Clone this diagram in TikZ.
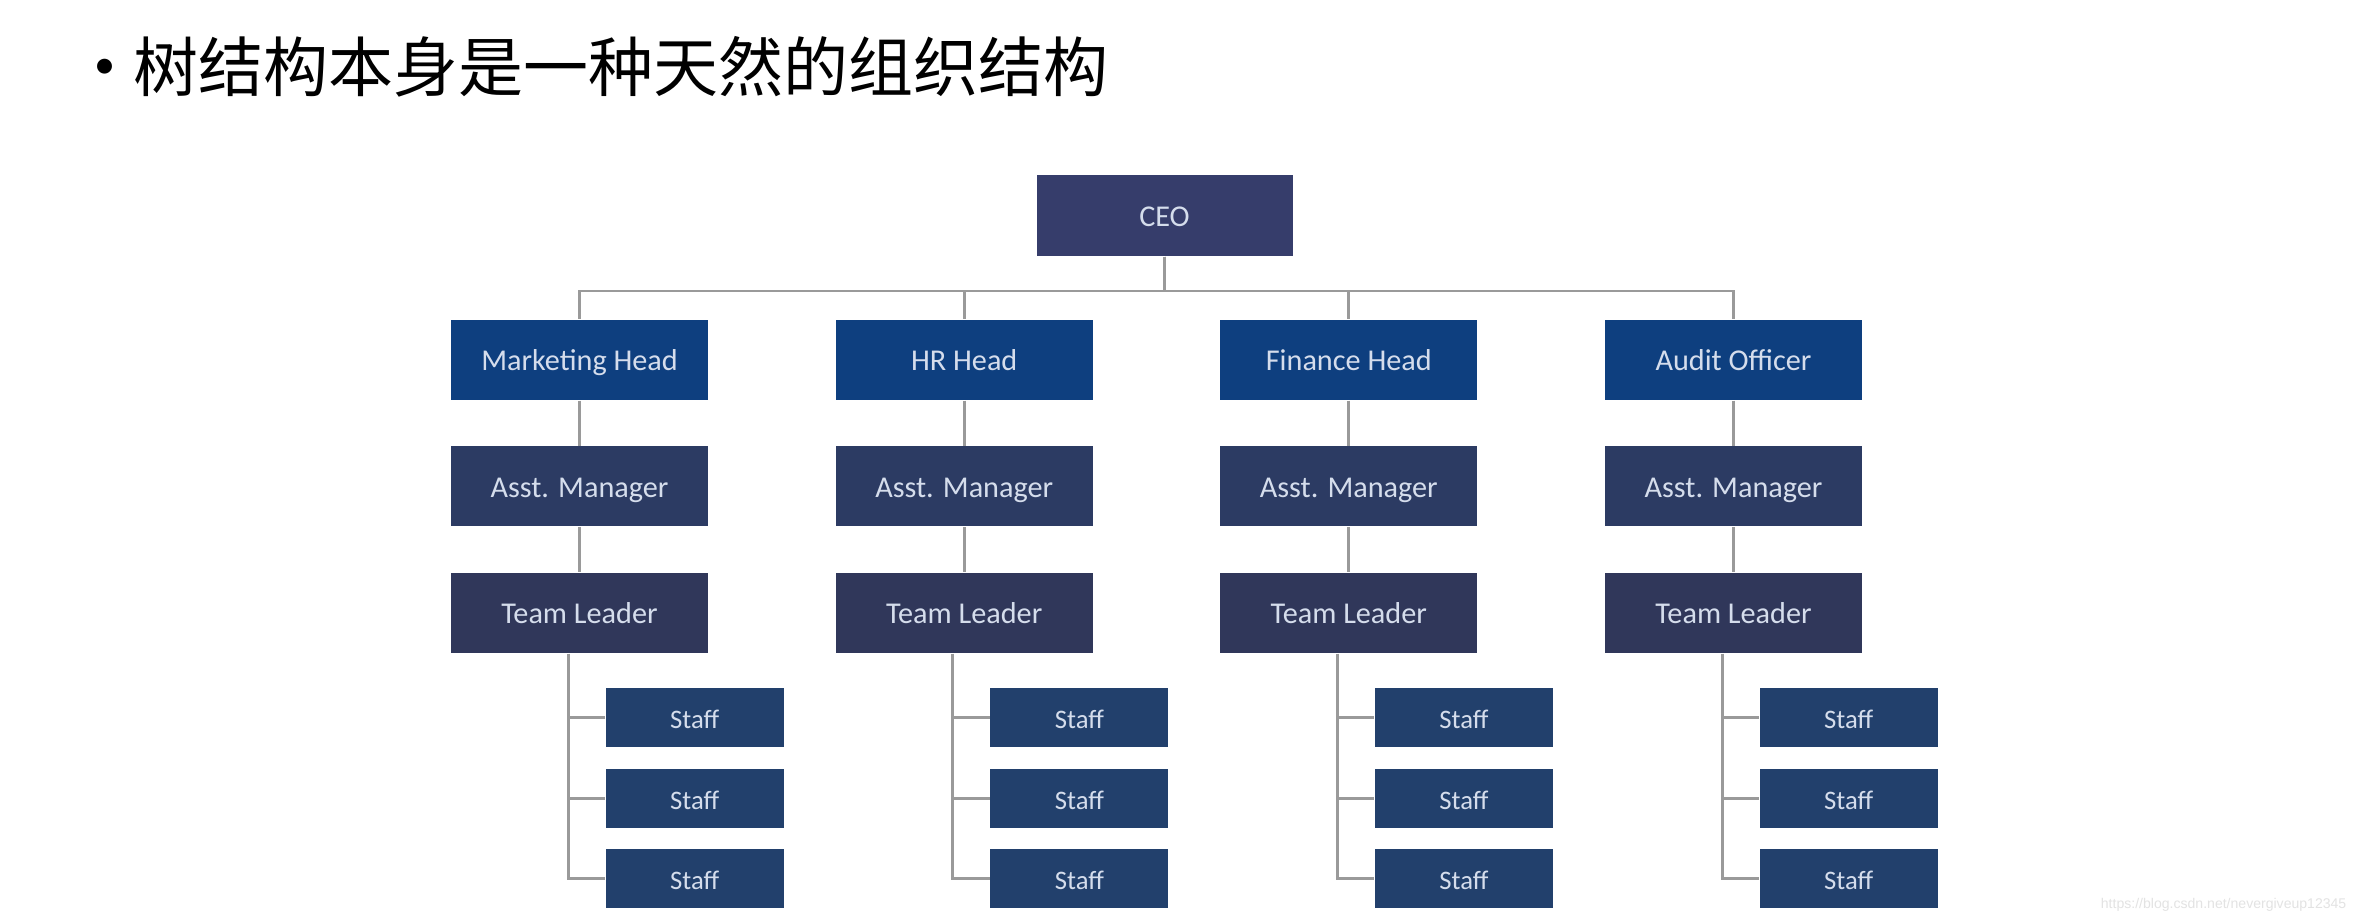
\documentclass[tikz,border=0pt]{standalone}
\usepackage{fontspec}
\setmainfont{Carlito}
\newfontfamily\cjkfont{Noto Sans CJK SC}
\newfontfamily\urlfont{Liberation Sans}
\usetikzlibrary{positioning}

\begin{document}
\begin{tikzpicture}[
  box/.style={rectangle, minimum width=2.57cm, minimum height=0.80cm, inner sep=0pt, text height=1.6ex, text depth=0.3ex, text=boxtext, font=\fontsize{8.6}{10}\selectfont},
  headbox/.style={box, fill=headblue},
  asstbox/.style={box, fill=asstblue},
  leadbox/.style={box, fill=leadblue},
  staffbox/.style={box, fill=staffblue, minimum width=1.78cm, minimum height=0.59cm, font=\fontsize{7.6}{9}\selectfont},
  link/.style={draw=linegray, line width=0.85pt},
  node distance=0.45cm]
\definecolor{ceoblue}{RGB}{54,61,107}
\definecolor{headblue}{RGB}{14,63,127}
\definecolor{asstblue}{RGB}{44,59,99}
\definecolor{leadblue}{RGB}{48,55,90}
\definecolor{staffblue}{RGB}{34,64,108}
\definecolor{boxtext}{RGB}{213,221,236}
\definecolor{linegray}{RGB}{154,154,154}
\useasboundingbox (0,0) rectangle (23.56,-9.24);
\fill[white] (0,0) rectangle (23.56,-9.24);
% title
\node[font=\fontsize{12}{14}\selectfont, inner sep=0pt] (dot) at (1.05,-0.69) {•};
\node[font=\cjkfont\fontsize{18.5}{22}\selectfont, anchor=west, inner sep=0pt] (title) at (1.33,-0.665) {树结构本身是一种天然的组织结构};
% top
\node[box, fill=ceoblue, minimum width=2.56cm, minimum height=0.81cm] (ceo) at (11.645,-2.155) {CEO};
\coordinate (bus) at (0,-2.91);
% heads
\node[headbox] (h1) at (5.795,-3.60) {Marketing Head};
\node[headbox] (h2) at (9.642,-3.60) {HR Head};
\node[headbox] (h3) at (13.488,-3.60) {Finance Head};
\node[headbox] (h4) at (17.335,-3.60) {Audit Officer};
\node[asstbox, below=of h1] (a1) {Asst. Manager};
\node[asstbox, below=of h2] (a2) {Asst. Manager};
\node[asstbox, below=of h3] (a3) {Asst. Manager};
\node[asstbox, below=of h4] (a4) {Asst. Manager};
\node[leadbox, below=of a1] (t1) {Team Leader};
\node[leadbox, below=of a2] (t2) {Team Leader};
\node[leadbox, below=of a3] (t3) {Team Leader};
\node[leadbox, below=of a4] (t4) {Team Leader};
% staff
\node[staffbox, anchor=north west] (s11) at ([xshift=0.255cm,yshift=-0.34cm]t1.south) {Staff};
\node[staffbox, below=0.2cm of s11] (s12) {Staff};
\node[staffbox, below=0.2cm of s12] (s13) {Staff};
\node[staffbox, anchor=north west] (s21) at ([xshift=0.255cm,yshift=-0.34cm]t2.south) {Staff};
\node[staffbox, below=0.2cm of s21] (s22) {Staff};
\node[staffbox, below=0.2cm of s22] (s23) {Staff};
\node[staffbox, anchor=north west] (s31) at ([xshift=0.255cm,yshift=-0.34cm]t3.south) {Staff};
\node[staffbox, below=0.2cm of s31] (s32) {Staff};
\node[staffbox, below=0.2cm of s32] (s33) {Staff};
\node[staffbox, anchor=north west] (s41) at ([xshift=0.255cm,yshift=-0.34cm]t4.south) {Staff};
\node[staffbox, below=0.2cm of s41] (s42) {Staff};
\node[staffbox, below=0.2cm of s42] (s43) {Staff};
% links
\draw[link] (ceo.south) |- (h1.north |- bus) -- (h1.north);
\draw[link] (ceo.south) |- (h2.north |- bus) -- (h2.north);
\draw[link] (ceo.south) |- (h3.north |- bus) -- (h3.north);
\draw[link] (ceo.south) |- (h4.north |- bus) -- (h4.north);
\draw[link] (h1) -- (a1) -- (t1);
\draw[link] (h2) -- (a2) -- (t2);
\draw[link] (h3) -- (a3) -- (t3);
\draw[link] (h4) -- (a4) -- (t4);
\draw[link] ([xshift=-0.115cm]t1.south) |- (s11.west) ([xshift=-0.115cm]t1.south) |- (s12.west) ([xshift=-0.115cm]t1.south) |- (s13.west);
\draw[link] ([xshift=-0.115cm]t2.south) |- (s21.west) ([xshift=-0.115cm]t2.south) |- (s22.west) ([xshift=-0.115cm]t2.south) |- (s23.west);
\draw[link] ([xshift=-0.115cm]t3.south) |- (s31.west) ([xshift=-0.115cm]t3.south) |- (s32.west) ([xshift=-0.115cm]t3.south) |- (s33.west);
\draw[link] ([xshift=-0.115cm]t4.south) |- (s41.west) ([xshift=-0.115cm]t4.south) |- (s42.west) ([xshift=-0.115cm]t4.south) |- (s43.west);
% watermark
\node[font=\urlfont\fontsize{4.0}{5}\selectfont, text=gray!22, anchor=east, inner sep=0pt] (mark) at (23.47,-9.05) {https://blog.csdn.net/nevergiveup12345};
\end{tikzpicture}
\end{document}
